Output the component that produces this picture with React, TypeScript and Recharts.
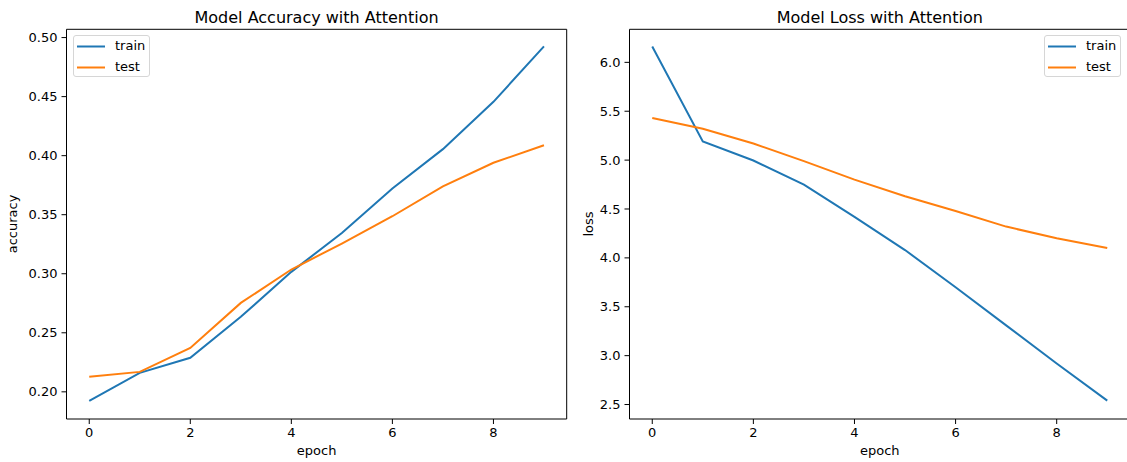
import React from 'react';
import { LineChart, Line, XAxis, YAxis, ReferenceArea, Legend } from 'recharts';

const epochs = [0, 1, 2, 3, 4, 5, 6, 7, 8, 9];
const accTrain = [0.1924, 0.2161, 0.2288, 0.2635, 0.3016, 0.3345, 0.3722, 0.4055, 0.4456, 0.4925];
const accTest = [0.2127, 0.2169, 0.2372, 0.2753, 0.3036, 0.3256, 0.3487, 0.374, 0.394, 0.4088];
const lossTrain = [6.163, 5.19, 4.996, 4.75, 4.42, 4.08, 3.7, 3.31, 2.92, 2.54];
const lossTest = [5.43, 5.32, 5.17, 4.99, 4.8, 4.63, 4.48, 4.32, 4.2, 4.1];
const xTicks = [0, 2, 4, 6, 8];
const accTicks = [0.2, 0.25, 0.3, 0.35, 0.4, 0.45, 0.5];
const lossTicks = [2.5, 3.0, 3.5, 4.0, 4.5, 5.0, 5.5, 6.0];
const seriesOrder = ['train', 'test'];

const BLUE = '#1f77b4';
const ORANGE = '#ff7f0e';
const FONT = '"DejaVu Sans", sans-serif';

const accData = epochs.map((e, i) => ({ epoch: e, train: accTrain[i], test: accTest[i] }));
const lossData = epochs.map((e, i) => ({ epoch: e, train: lossTrain[i], test: lossTest[i] }));

const renderLegend = (props: any) => {
  const payload = [...(props.payload || [])].sort(
    (a: any, b: any) => seriesOrder.indexOf(a.value) - seriesOrder.indexOf(b.value)
  );
  return (
    <div
      style={{
        border: '1px solid #d6d6d6',
        borderRadius: 3,
        background: 'rgba(255,255,255,0.8)',
        width: 77,
        height: 42,
        boxSizing: 'border-box',
        fontFamily: FONT,
        fontSize: 13,
        color: '#000',
        position: 'relative',
      }}
    >
      {payload.map((p: any, i: number) => (
        <div key={i} style={{ position: 'absolute', left: 0, top: 1 + i * 20.5, height: 20, width: 77 }}>
          <svg width={34} height={20} style={{ position: 'absolute', left: 0, top: 0 }}>
            <line x1={3} x2={31} y1={9.5} y2={9.5} stroke={p.color} strokeWidth={2} />
          </svg>
          <span style={{ position: 'absolute', left: 41, top: 1, lineHeight: '16px' }}>{p.value}</span>
        </div>
      ))}
    </div>
  );
};

type PanelProps = {
  data: any[];
  title: string;
  ylabel: string;
  yDomain: [number, number];
  yTicks: number[];
  digits: number;
  width: number;
  marginLeft: number;
  yAxisWidth: number;
  marginRight: number;
  ylabelX: number;
  legendLeft: number;
};

const Panel = (p: PanelProps) => {
  const plotLeft = p.marginLeft + p.yAxisWidth;
  const plotRight = p.width - p.marginRight;
  const centerX = (plotLeft + plotRight) / 2;
  return (
    <LineChart
      width={p.width}
      height={462}
      data={p.data}
      margin={{ top: 29.3, right: p.marginRight, left: p.marginLeft, bottom: 13 }}
    >
      <XAxis
        dataKey="epoch"
        type="number"
        domain={[-0.45, 9.45]}
        ticks={xTicks}
        allowDataOverflow
        height={30}
        tickSize={5}
        tickMargin={4}
        stroke="#000"
        axisLine={false}
        tick={{ fill: '#000', fontSize: 13, fontFamily: FONT }}
        label={{
          content: () => (
            <text x={centerX} y={455} textAnchor="middle" fontSize={13} fontFamily={FONT} fill="#000">
              epoch
            </text>
          ),
        }}
      />
      <YAxis
        type="number"
        domain={p.yDomain}
        ticks={p.yTicks}
        allowDataOverflow
        width={p.yAxisWidth}
        tickSize={5}
        tickMargin={4}
        stroke="#000"
        axisLine={false}
        tickFormatter={(v: number) => v.toFixed(p.digits)}
        tick={{ fill: '#000', fontSize: 13, fontFamily: FONT }}
        label={{
          content: () => (
            <text
              x={p.ylabelX}
              y={224}
              transform={`rotate(-90, ${p.ylabelX}, 224)`}
              textAnchor="middle"
              fontSize={13}
              fontFamily={FONT}
              fill="#000"
            >
              {p.ylabel}
            </text>
          ),
        }}
      />
      <ReferenceArea
        x1={-0.45}
        x2={9.45}
        y1={p.yDomain[0]}
        y2={p.yDomain[1]}
        fill="none"
        fillOpacity={0}
        stroke="#000"
        strokeWidth={1}
        ifOverflow="visible"
        label={{
          content: () => (
            <text x={centerX} y={23} textAnchor="middle" fontSize={16} fontFamily={FONT} fill="#000">
              {p.title}
            </text>
          ),
        }}
      />
      <Legend
        layout="vertical"
        align="center"
        verticalAlign="middle"
        content={renderLegend}
        wrapperStyle={{ position: 'absolute', left: p.legendLeft, top: 35, width: 77, height: 42 }}
      />
      <Line type="linear" dataKey="train" name="train" stroke={BLUE} strokeWidth={2} dot={false} isAnimationActive={false} />
      <Line type="linear" dataKey="test" name="test" stroke={ORANGE} strokeWidth={2} dot={false} isAnimationActive={false} />
    </LineChart>
  );
};

export default function App() {
  return (
    <div
      style={{
        position: 'fixed',
        left: 0,
        top: 0,
        width: 1127,
        height: 462,
        overflow: 'hidden',
        background: '#fff',
        fontFamily: FONT,
      }}
    >
      <div style={{ position: 'absolute', left: 0, top: 0 }}>
        <Panel
          data={accData}
          title="Model Accuracy with Attention"
          ylabel="accuracy"
          yDomain={[0.177, 0.507]}
          yTicks={accTicks}
          digits={2}
          width={580}
          marginLeft={6.5}
          yAxisWidth={60}
          marginRight={13.3}
          ylabelX={17}
          legendLeft={73}
        />
      </div>
      <div style={{ position: 'absolute', left: 580, top: 0 }}>
        <Panel
          data={lossData}
          title="Model Loss with Attention"
          ylabel="loss"
          yDomain={[2.352, 6.338]}
          yTicks={lossTicks}
          digits={1}
          width={560}
          marginLeft={4.5}
          yAxisWidth={45}
          marginRight={10}
          ylabelX={12.5}
          legendLeft={464}
        />
      </div>
    </div>
  );
}
